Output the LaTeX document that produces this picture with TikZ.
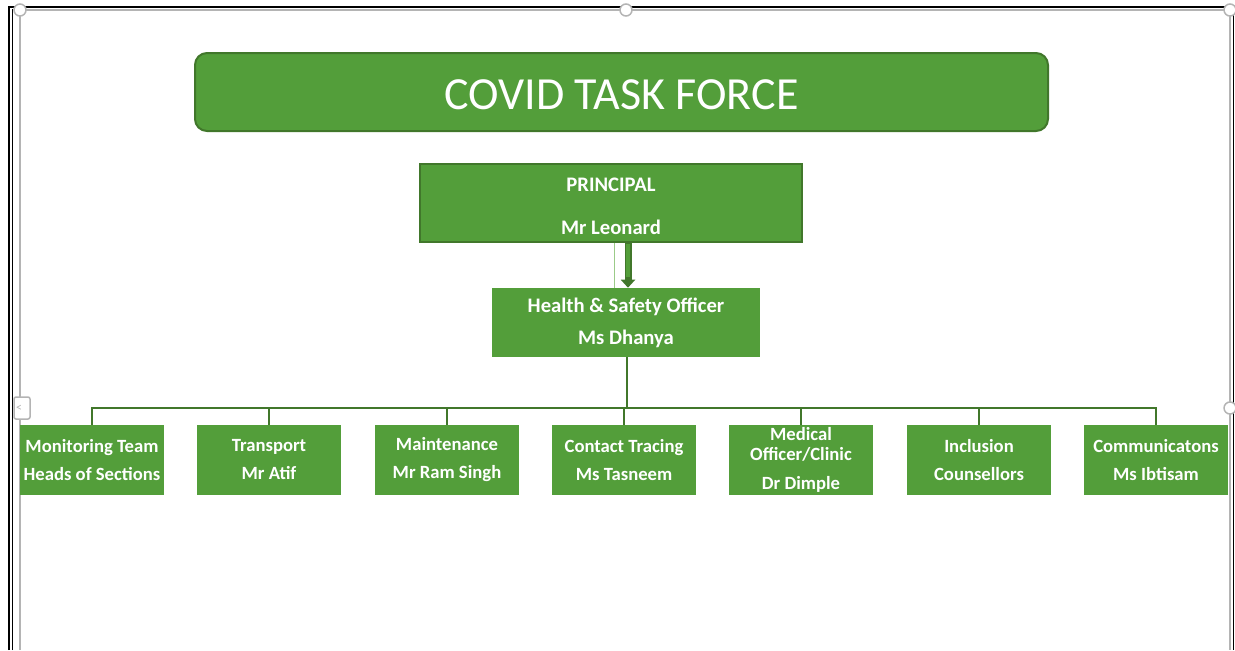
\documentclass[tikz,border=0pt]{standalone}
\usepackage{fontspec}
\setmainfont{Carlito}
\usetikzlibrary{arrows.meta}
\definecolor{gfill}{HTML}{539E3A}
\definecolor{gline}{HTML}{41772B}
\definecolor{glight}{HTML}{9BCB88}
\definecolor{hgray}{HTML}{B4B4B4}
\begin{document}
\begin{tikzpicture}[x=0.75pt,y=-0.75pt,
  box/.style={fill=gfill, text=white, align=center, inner sep=0pt,
    font=\bfseries\fontsize{14}{21}\selectfont},
  smallbox/.style={box, minimum width={144*0.75pt}, minimum height={70*0.75pt}},
  conn/.style={draw=gline, line width={2.2*0.75pt}},
  handle/.style={draw=hgray, fill=white, line width={1.5*0.75pt}}]
\useasboundingbox (0,0) rectangle (1235,650);
% frame
\draw[hgray, line width={1.5*0.75pt}] (20,650) -- (20,10) -- (1230,10) -- (1230,650);
\draw[black, line width={2*0.75pt}] (9,650) -- (9,7) -- (1235,7);
\draw[black, line width={1.5*0.75pt}] (12.5,650) -- (12.5,9);
\draw[black, line width={1*0.75pt}] (1233.5,8) -- (1233.5,650);
\path[handle] (626,10) circle[radius=6];
\path[handle] (1230,10) circle[radius=6];
\path[handle] (1230,408) circle[radius=6];
\path[handle] (20,10) circle[radius=6];
\path[handle, rounded corners=1.5] (14,397) rectangle (30,419);
\node[text=hgray, font=\fontsize{9}{9}\selectfont] (hl) at (19,408) {\textless};
% title
\node[fill=gfill, draw=gline, line width={2*0.75pt}, rounded corners={12*0.75pt},
  minimum width={853*0.75pt}, minimum height={78*0.75pt}] (title) at (621.5,92) {};
\node[text=white, inner sep=0pt, font=\fontsize{34.5}{40}\selectfont] (titletext)
  at (621.5,95) {COVID TASK FORCE};
% principal
\node[box, draw=gline, line width={2*0.75pt}, minimum width={382*0.75pt},
  minimum height={78*0.75pt}] (P) at (611,203) {};
\node[text=white, align=center, inner sep=0pt,
  font=\bfseries\fontsize{15.5}{21}\selectfont] (Ptext) at (611,206.5)
  {PRINCIPAL\\[{11.25pt}]Mr Leonard};
% health & safety
\node[box, minimum width={268*0.75pt}, minimum height={69*0.75pt},
  font=\bfseries\fontsize{15.5}{24}\selectfont] (H) at (626,322.5)
  {Health \& Safety Officer\\Ms Dhanya};
% arrow principal -> HSO
\draw[glight, line width={1*0.75pt}] (P.south -| 614,0) -- (H.north -| 614,0);
\draw[gline, line width={7*0.75pt}, -{Triangle[width={14*0.75pt},length={8*0.75pt}]}]
  (P.south -| 628,0) -- (H.north -| 628,0);
\draw[gfill, line width={3.5*0.75pt}] ([yshift=-1pt]P.south -| 628,0) -- ([yshift=8pt]H.north -| 628,0);
% bottom row
\node[smallbox] (b1) at (92,460) {Monitoring Team\\Heads of Sections};
\node[smallbox] (b2) at (269,460) {Transport\\Mr Atif};
\node[smallbox] (b3) at (447,460) {Maintenance\\Mr Ram Singh};
\node[smallbox] (b4) at (624,460) {Contact Tracing\\Ms Tasneem};
\node[smallbox, font=\bfseries\fontsize{14}{15}\selectfont] (b5) at (801,460)
  {Medical\\Officer/Clinic\\[{6.75pt}]Dr Dimple};
\node[smallbox] (b6) at (979,460) {Inclusion\\Counsellors};
\node[smallbox] (b7) at (1156,460) {Communicatons\\Ms Ibtisam};
% tree connectors
\coordinate (bus) at (627,408);
\draw[conn] (H.south -| bus) -- (bus);
\draw[conn] (b1.north) -- (b1.north |- bus) -- (b7.north |- bus) -- (b7.north);
\foreach \b in {b2,b3,b4,b5,b6}{\draw[conn] (\b.north) -- (\b.north |- bus);}
\end{tikzpicture}
\end{document}
